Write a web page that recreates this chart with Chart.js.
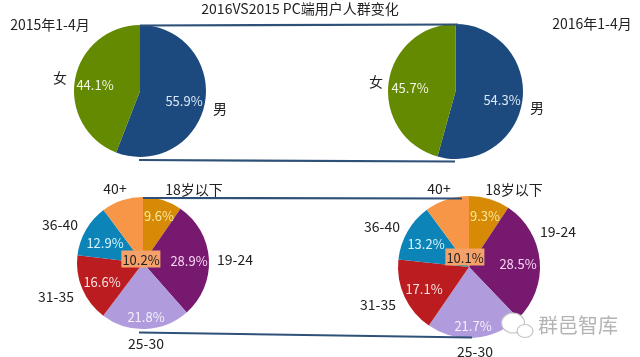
<!DOCTYPE html>
<html>
<head>
<meta charset="utf-8">
<script src="https://cdn.jsdelivr.net/npm/chart.js@4"></script>
<style>
  html, body { margin: 0; background: #fff; overflow: hidden; }
  #stage { position: relative; width: 640px; height: 357px; font-family: "Noto Sans CJK SC", "Noto Sans", sans-serif; color: #222; }
  #stage canvas, #stage svg { position: absolute; }
  .lbl { position: absolute; transform: translate(-50%, -50%); white-space: nowrap; font-size: 14px; line-height: 1; }
  .val { font-size: 13px; }
</style>
</head>
<body>
<div id="stage"></div>
<script>
const title = "2016VS2015 PC端用户人群变化";
const periods = ["2015年1-4月", "2016年1-4月"];

const genderLabels = ["男", "女"];
const gender2015 = [55.9, 44.1];
const gender2016 = [54.3, 45.7];

const ageLabels = ["18岁以下", "19-24", "25-30", "31-35", "36-40", "40+"];
const age2015 = [9.6, 28.9, 21.8, 16.6, 12.9, 10.2];
const age2016 = [9.3, 28.5, 21.7, 17.1, 13.2, 10.1];

const genderColors = ["#1d4a7e", "#638a00"];
const ageColors = ["#d68a06", "#771a6f", "#b09cdc", "#bb1c20", "#0d84b8", "#f79646"];

const stage = document.getElementById("stage");

function addText(text, x, y, style, cls) {
    const el = document.createElement("div");
    el.className = cls ? "lbl " + cls : "lbl";
    el.textContent = text;
    el.style.left = x + "px";
    el.style.top = y + "px";
    Object.assign(el.style, style || {});
    stage.appendChild(el);
    return el;
}

function makePie(values, colors, labels, cx, cy, r) {
    const size = 2 * r + 8;
    const canvas = document.createElement("canvas");
    canvas.width = size;
    canvas.height = size;
    canvas.style.left = (cx - size / 2) + "px";
    canvas.style.top = (cy - size / 2) + "px";
    canvas.style.width = size + "px";
    canvas.style.height = size + "px";
    stage.appendChild(canvas);
    new Chart(canvas, {
        type: "pie",
        data: {
            labels: labels,
            datasets: [{
                data: values,
                backgroundColor: colors,
                borderWidth: 0,
                hoverOffset: 0
            }]
        },
        options: {
            responsive: false,
            animation: false,
            radius: r,
            events: [],
            plugins: {
                legend: { display: false },
                tooltip: { enabled: false }
            }
        }
    });
}

makePie(gender2015, genderColors, genderLabels, 139.7, 91, 66);
makePie(gender2016, genderColors, genderLabels, 455.8, 91.8, 67.5);
makePie(age2015, ageColors, ageLabels, 143.3, 262.5, 66);
makePie(age2016, ageColors, ageLabels, 469, 266.5, 71);

// connector lines between the two years + wechat mark
const svgNS = "http://www.w3.org/2000/svg";
const overlay = document.createElementNS(svgNS, "svg");
overlay.setAttribute("width", 640);
overlay.setAttribute("height", 357);
overlay.style.left = "0px";
overlay.style.top = "0px";
[
    [140, 25.5, 458, 24.5],
    [139, 160, 455, 161.5],
    [143, 198, 462, 198.5],
    [139, 332.5, 472, 337.5]
].forEach(c => {
    const l = document.createElementNS(svgNS, "line");
    l.setAttribute("x1", c[0]);
    l.setAttribute("y1", c[1]);
    l.setAttribute("x2", c[2]);
    l.setAttribute("y2", c[3]);
    l.setAttribute("stroke", "#2f5178");
    l.setAttribute("stroke-width", 2.2);
    overlay.appendChild(l);
});
[
    [513, 323, 11.5, 10],
    [525, 331, 8, 6.5]
].forEach(e => {
    const b = document.createElementNS(svgNS, "ellipse");
    b.setAttribute("cx", e[0]);
    b.setAttribute("cy", e[1]);
    b.setAttribute("rx", e[2]);
    b.setAttribute("ry", e[3]);
    b.setAttribute("fill", "#fff");
    b.setAttribute("stroke", "#c4c4c4");
    b.setAttribute("stroke-width", 1.2);
    overlay.appendChild(b);
});
stage.appendChild(overlay);

addText(title, 300, 8);
addText(periods[0], 50, 24);
addText(periods[1], 592, 23);

// gender
const white = { color: "#f2f6e4" };
addText(genderLabels[0], 220, 108);
addText(genderLabels[1], 60, 77);
addText(gender2015[0] + "%", 184, 100, { color: "#dbe8f6" }, "val");
addText(gender2015[1] + "%", 95, 84, white, "val");
addText(genderLabels[0], 537, 107);
addText(genderLabels[1], 376, 81);
addText(gender2016[0] + "%", 502, 99, { color: "#dbe8f6" }, "val");
addText(gender2016[1] + "%", 410, 87, white, "val");

// age 2015
const agePos2015 = [[194, 189], [235, 259], [146, 343], [56, 296], [60, 224], [115, 188]];
const ageValPos2015 = [[159, 215], [189, 260], [146, 316], [102, 281], [105, 242], [141, 259]];
// age 2016
const agePos2016 = [[514, 189], [558, 231], [475, 351], [378, 304], [382, 226], [439, 188]];
const ageValPos2016 = [[485, 215], [518, 263], [473, 325], [424, 288], [426, 243], [465, 257]];

const ageValColors = ["#f8e79a", "#f8d6f4", "#f4effc", "#fbe3e3", "#d4f4ff", "#222"];

function addAge(values, pos, valPos) {
    ageLabels.forEach((name, i) => {
        addText(name, pos[i][0], pos[i][1]);
        const style = { color: ageValColors[i] };
        if (i === 5) {
            style.background = "#f4a26a";
            style.padding = "2px 1px";
        }
        addText(values[i] + "%", valPos[i][0], valPos[i][1], style, "val");
    });
}
addAge(age2015, agePos2015, ageValPos2015);
addAge(age2016, agePos2016, ageValPos2016);

addText("群邑智库", 578, 325, { fontSize: "20px", color: "#b4b4b4" });
</script>
</body>
</html>
